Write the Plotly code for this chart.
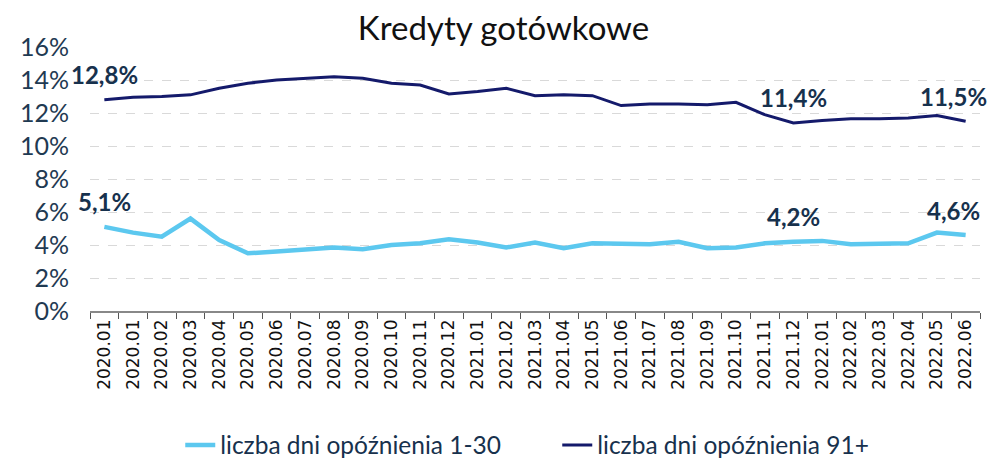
import plotly.graph_objects as go

labels = ["2020.01", "2020.01", "2020.02", "2020.03", "2020.04", "2020.05", "2020.06",
          "2020.07", "2020.08", "2020.09", "2020.10", "2020.11", "2020.12",
          "2021.01", "2021.02", "2021.03", "2021.04", "2021.05", "2021.06",
          "2021.07", "2021.08", "2021.09", "2021.10", "2021.11", "2021.12",
          "2022.01", "2022.02", "2022.03", "2022.04", "2022.05", "2022.06"]

late_1_30 = [5.1, 4.75, 4.5, 5.6, 4.3, 3.5, 3.6, 3.75, 3.85, 3.75, 4.0, 4.1, 4.35,
             4.15, 3.85, 4.15, 3.8, 4.1, 4.1, 4.05, 4.2, 3.8, 3.85, 4.1, 4.2,
             4.25, 4.05, 4.05, 4.1, 4.75, 4.6]

late_91 = [12.8, 12.95, 13.0, 13.1, 13.5, 13.8, 14.0, 14.1, 14.2, 14.1, 13.8, 13.7, 13.15,
           13.3, 13.5, 13.05, 13.1, 13.05, 12.45, 12.55, 12.55, 12.5, 12.65, 11.9, 11.4,
           11.55, 11.65, 11.65, 11.7, 11.85, 11.5]

series_names = ["liczba dni opóźnienia 1-30", "liczba dni opóźnienia 91+"]
label_idx = [0, 24, 30]

x = list(range(len(labels)))
light = "#5cc8ef"
dark = "#141a6b"
txt = "#17314d"

# page body has an 8px margin, so the figure is sized for the visible area
W, H = 991, 453

fig = go.Figure()
fig.add_trace(go.Scatter(x=x, y=late_1_30, mode="lines", name=series_names[0],
                         line=dict(color=light, width=4.5)))
fig.add_trace(go.Scatter(x=x, y=late_91, mode="lines", name=series_names[1],
                         line=dict(color=dark, width=3)))

shifts = {0: 0, 24: 0, 30: -12}
for series in (late_1_30, late_91):
    for i in label_idx:
        fig.add_annotation(x=x[i], y=series[i],
                           text="<b>%s%%</b>" % f"{series[i]:.1f}".replace(".", ","),
                           showarrow=False, yshift=25, xshift=shifts[i],
                           font=dict(family="Lato", size=24, color=txt))

fig.update_layout(
    width=W, height=H,
    margin=dict(l=77, r=19, t=39, b=150),
    paper_bgcolor="white", plot_bgcolor="white",
    title=dict(text="Kredyty gotówkowe", x=0.5, xanchor="center",
               yref="container", y=1 - 20 / H, yanchor="middle",
               font=dict(family="Lato", size=33, color="#111111")),
    showlegend=True,
    legend=dict(orientation="h", x=0.525, xanchor="center",
                yref="container", y=(H - 437) / H, yanchor="middle",
                font=dict(family="Lato", size=24.5, color=txt), itemwidth=30,
                tracegroupgap=0, entrywidth=332),
    xaxis=dict(type="category", tickmode="array", tickvals=x, ticktext=labels,
               tickangle=-90, tickson="boundaries", ticks="outside", ticklen=6,
               tickcolor="#555555", showline=True, linecolor="#888888", linewidth=1.5,
               showgrid=False, range=[-0.5, len(labels) - 0.5],
               tickfont=dict(family="DejaVu Sans", size=17, color="#111111")),
    yaxis=dict(range=[0, 16], dtick=2, ticksuffix="%", showgrid=True,
               gridcolor="#d9d9d9", griddash="dash", gridwidth=1, zeroline=False,
               ticklabelstandoff=20,
               tickfont=dict(family="Lato", size=25, color="#1f3a52")),
)

fig.write_html("out.html")
